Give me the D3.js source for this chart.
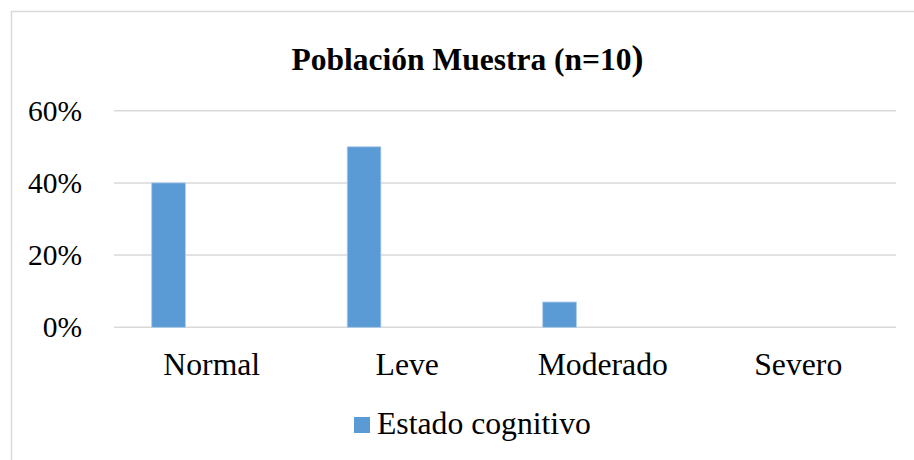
<!DOCTYPE html>
<html><head><meta charset="utf-8">
<script src="https://cdn.jsdelivr.net/npm/d3@7"></script>
<style>body{margin:0;background:#fff}</style>
</head><body>
<svg id="c" width="914" height="460"></svg>
<script>
const categories = ["Normal", "Leve", "Moderado", "Severo"];
const values = [0.40, 0.50, 0.07, 0.0];
const yTicks = [0, 0.2, 0.4, 0.6];
const seriesName = "Estado cognitivo";
const titleText = "Población Muestra (n=10";

const svg = d3.select("#c");
const W = 914, H = 460;
const m = {left: 114, right: 18, top: 110.7, bottom: 132.7};
const font = "'Liberation Serif', 'Times New Roman', serif";

svg.append("rect").attr("x", 11.5).attr("y", 11.5).attr("width", 1000).attr("height", 1000)
  .attr("fill", "#fff").attr("stroke", "#d9d9d9").attr("stroke-width", 1.5);

const x = d3.scaleBand().domain(categories).range([m.left, W - m.right]);
const y = d3.scaleLinear().domain([0, 0.6]).range([H - m.bottom, m.top]);

// gridlines
svg.append("g").selectAll("line").data(yTicks).join("line")
  .attr("x1", m.left).attr("x2", W - m.right)
  .attr("y1", d => y(d)).attr("y2", d => y(d))
  .attr("stroke", "#d9d9d9").attr("stroke-width", 1.5);

// y axis labels
const yAxis = d3.axisLeft(y).tickValues(yTicks).tickFormat(d3.format(".0%")).tickSize(0).tickPadding(32);
const gy = svg.append("g").attr("transform", `translate(${m.left},0)`).call(yAxis);
gy.select(".domain").remove();
gy.selectAll("text").attr("font-family", font).attr("font-size", 29.5).attr("fill", "#000");

// x axis labels
const xAxis = d3.axisBottom(x).tickSize(0);
const gx = svg.append("g").attr("transform", `translate(0,${y(0)})`).call(xAxis);
gx.select(".domain").remove();
gx.selectAll("text").attr("font-family", font).attr("font-size", 31.7).attr("fill", "#000")
  .attr("y", 48).attr("dy", 0);

// bars
const bw = x.bandwidth();
svg.append("g").selectAll("rect").data(values).join("rect")
  .attr("x", (d, i) => x(categories[i]) + bw * 0.193)
  .attr("width", bw * 0.172)
  .attr("y", d => y(d))
  .attr("height", d => y(0) - y(d))
  .attr("fill", "#5b9bd5")
  .attr("stroke", d => d > 0 ? "#a9c9ea" : "none").attr("stroke-width", 0.8);

// title
const t = svg.append("text").attr("x", 467.5).attr("y", 70).attr("text-anchor", "middle")
  .attr("font-family", font).attr("font-weight", "bold").attr("font-size", 31.5).attr("fill", "#000");
t.append("tspan").text(titleText);
t.append("tspan").attr("font-size", 36).text(")");

// legend
const lg = svg.append("g");
lg.append("rect").attr("x", 354).attr("y", 417).attr("width", 16).attr("height", 16).attr("fill", "#5b9bd5");
lg.append("text").attr("x", 377).attr("y", 434).attr("font-family", font).attr("font-size", 31.7)
  .attr("fill", "#000").text(seriesName);
</script>
</body></html>
